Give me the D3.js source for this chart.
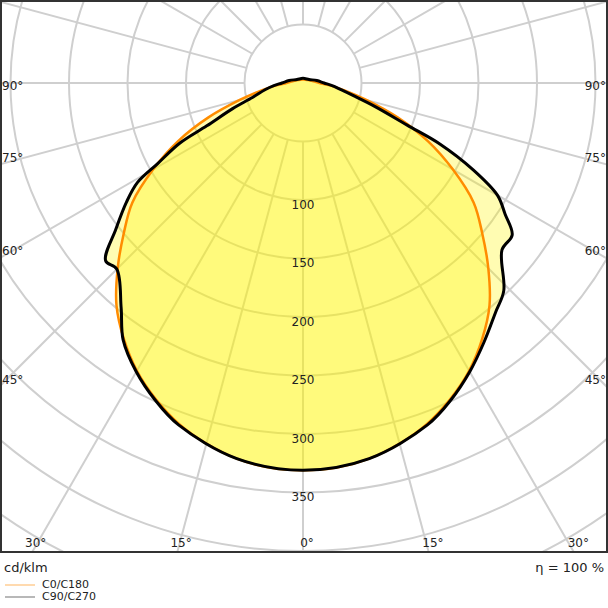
<!DOCTYPE html>
<html><head><meta charset="utf-8">
<script src="https://cdn.jsdelivr.net/npm/d3@7"></script>
<style>body{margin:0;background:#fff}text{font-family:"DejaVu Sans",sans-serif;fill:#222}</style>
</head><body>
<svg id="chart" width="608" height="608"></svg>
<script>
// gamma angles (deg from nadir) and intensities (cd/klm)
const c0Angles   = [0, 5, 10, 15, 20, 25, 30, 35, 40, 45, 50, 55, 60, 65, 70, 75, 80, 85, 90, 100, 120, 180]
const c0Values   = [331, 330, 326, 319, 310, 298, 284, 267, 248, 224, 200, 178, 148, 118, 86, 56, 36, 23, 14, 9, 5, 3]
const c90Angles  = [0, 10, 20, 25, 30, 35, 40, 44, 50, 54, 57, 60, 63, 66, 68, 72, 76, 80, 85, 90, 100, 120, 180]
const c90Values  = [331, 326, 311, 299, 285, 270, 256, 247, 222, 221, 206, 192, 163, 128, 96, 64, 44, 33, 25, 18, 12, 6, 4]
const c270Angles = [0, 10, 20, 25, 30, 35, 39, 45, 48, 52, 56, 59, 61, 64, 66, 70, 74, 80, 85, 90, 100, 120, 180]
const c270Values = [331, 326, 311, 299, 285, 268, 247, 225, 227, 203, 182, 165, 142, 117, 90, 64, 45, 33, 25, 18, 12, 6, 4]
const ringValues = [50, 100, 150, 200, 250, 300, 350, 400, 450, 500, 550, 600, 650, 700]
const ringLabels = [100, 150, 200, 250, 300, 350]
const bottomTicks = [-30, -15, 0, 15, 30]
const sideTicks = [45, 60, 75, 90]

const W = 608, H = 553, cx = 303, cy = 83
const svg = d3.select("#chart")
const r = d3.scaleLinear().domain([0, 100]).range([0, 117])

svg.append("clipPath").attr("id", "frame").append("rect")
    .attr("x", 1).attr("y", 1).attr("width", W - 2).attr("height", H - 2)

const g = svg.append("g").attr("clip-path", "url(#frame)")
const grid = g.append("g").attr("stroke", "#cfcfcf").attr("stroke-width", 2).attr("fill", "none")

grid.selectAll("circle").data(ringValues).join("circle")
    .attr("cx", cx).attr("cy", cy).attr("r", d => r(d))

grid.selectAll("line").data(d3.range(0, 360, 15)).join("line")
    .attr("x1", d => cx + r(50) * Math.sin(d * Math.PI / 180))
    .attr("y1", d => cy + r(50) * Math.cos(d * Math.PI / 180))
    .attr("x2", d => cx + r(900) * Math.sin(d * Math.PI / 180))
    .attr("y2", d => cy + r(900) * Math.cos(d * Math.PI / 180))

const toRad = Math.PI / 180
function outline(rightA, rightV, leftA, leftV) {
    const pts = rightA.map((a, i) => [Math.PI - a * toRad, r(rightV[i])])
    for (let i = leftA.length - 2; i >= 1; i--) pts.push([Math.PI + leftA[i] * toRad, r(leftV[i])])
    return pts
}
const radial = d3.lineRadial().curve(d3.curveCatmullRomClosed.alpha(0.5))
const curves = g.append("g").attr("transform", `translate(${cx},${cy})`)

const c0 = outline(c0Angles, c0Values, c0Angles, c0Values)
const c90 = outline(c90Angles, c90Values, c270Angles, c270Values)

curves.append("path").attr("d", radial(c0)).attr("fill", "#fff500").attr("fill-opacity", 0.3)
curves.append("path").attr("d", radial(c90)).attr("fill", "#fff500").attr("fill-opacity", 0.3)

// radial labels
g.selectAll(".rl").data(ringLabels).join("text")
    .attr("x", cx).attr("y", d => cy + r(d) + 5)
    .attr("text-anchor", "middle").attr("dominant-baseline", "middle")
    .attr("font-size", 12).text(d => d)

curves.append("path").attr("d", radial(c0)).attr("fill", "none")
    .attr("stroke", "#ff8c00").attr("stroke-width", 2.5).attr("stroke-linejoin", "round")
curves.append("path").attr("d", radial(c90)).attr("fill", "none")
    .attr("stroke", "#000").attr("stroke-width", 3).attr("stroke-linejoin", "round")

// angle labels
svg.selectAll(".bt").data(bottomTicks).join("text")
    .attr("x", d => cx + (H - cy) * Math.tan(d * toRad) + 4)
    .attr("y", 543).attr("text-anchor", "middle").attr("dominant-baseline", "middle")
    .attr("font-size", 12).text(d => Math.abs(d) + "°")
sideTicks.forEach(d => {
    const y = d === 90 ? cy + 3 : cy + cx / Math.tan(d * toRad) - 6
    svg.append("text").attr("x", 2).attr("y", y).attr("dominant-baseline", "middle")
        .attr("font-size", 12).text(d + "°")
    svg.append("text").attr("x", 606).attr("y", y).attr("text-anchor", "end")
        .attr("dominant-baseline", "middle").attr("font-size", 12).text(d + "°")
})

svg.append("rect").attr("x", 1).attr("y", 1).attr("width", W - 2).attr("height", H - 2)
    .attr("fill", "none").attr("stroke", "#333").attr("stroke-width", 2)

svg.append("text").attr("x", 4).attr("y", 572).attr("font-size", 13).text("cd/klm")
svg.append("text").attr("x", 604).attr("y", 572).attr("text-anchor", "end").attr("font-size", 13).text("η = 100 %")

const legend = [["C0/C180", "#ffc27a"], ["C90/C270", "#888"]]
legend.forEach(([name, col], i) => {
    const y = 585 + i * 12
    svg.append("line").attr("x1", 5).attr("x2", 35).attr("y1", y).attr("y2", y)
        .attr("stroke", col).attr("stroke-width", 1.2)
    svg.append("text").attr("x", 42).attr("y", y).attr("dominant-baseline", "middle")
        .attr("font-size", 11).text(name)
})
</script>
</body></html>
